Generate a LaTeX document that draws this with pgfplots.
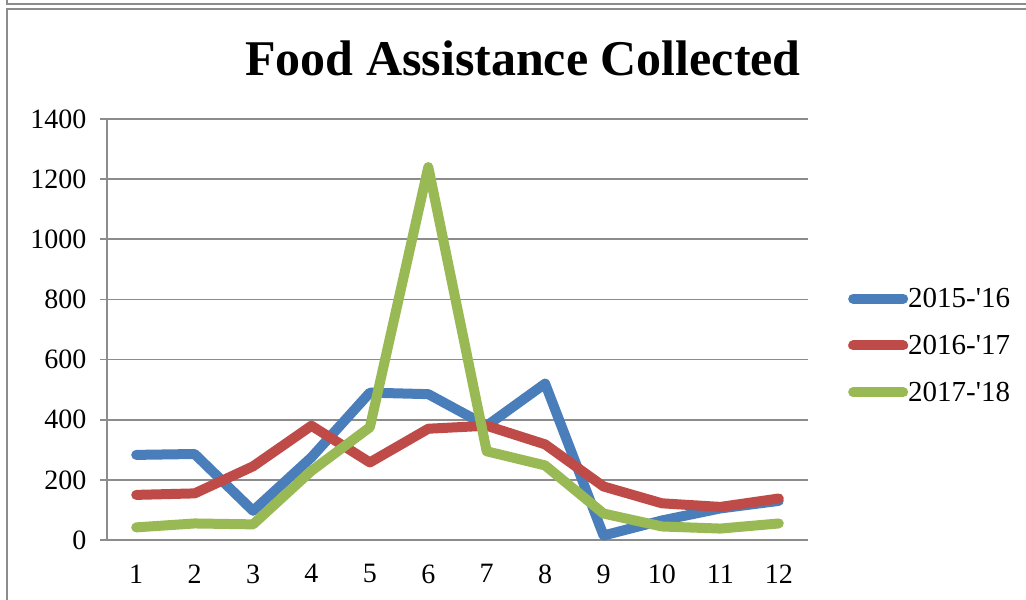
\documentclass[border=0pt]{standalone}
\usepackage{fontspec}
\setmainfont{Liberation Serif}
\usepackage{pgfplots}
\pgfplotsset{compat=1.18}
\definecolor{cblue}{HTML}{4A7EBB}
\definecolor{cred}{HTML}{BE4B48}
\definecolor{cgreen}{HTML}{98B954}
\definecolor{fr}{HTML}{8C8C8C}
\begin{document}
\begin{tikzpicture}[x=1pt,y=1pt]
\useasboundingbox (0,0) rectangle (1026,600);
\begin{axis}[
  at={(107pt,60pt)}, anchor=south west,
  scale only axis, width=701pt, height=421pt,
  xmin=0.5, xmax=12.5, ymin=0, ymax=1400,
  xtick={1,...,12},
  minor xtick={0.5,1.5,...,12.5},
  ytick={0,200,...,1400},
  axis lines*=left,
  axis line style={fr, line width=1.8pt, -},
  ymajorgrids, grid style={fr, line width=1.8pt},
  tick align=outside,
  x tick style={draw=none},
  minor x tick style={fr, line width=1.8pt},
  minor tick length=10pt,
  y tick style={fr, line width=1.8pt},
  major tick length=7pt,
  /pgf/number format/assume math mode=true,
  /pgf/number format/1000 sep={},
  tick label style={font=\fontsize{28}{30}\selectfont, black},
  xticklabel style={yshift=-14pt},
  yticklabel style={xshift=-10pt},
  clip=false,
  legend style={at={(1.057,0.462)}, anchor=west, draw=none, fill=none,
    font=\fontsize{29}{32}\selectfont, /tikz/row sep=26pt, inner sep=0pt,
    nodes={inner sep=0pt}},
  legend cell align=left,
  legend image code/.code={\draw[#1, line cap=round] (0pt,0pt) -- (50pt,0pt);},
  every axis plot/.append style={line width=10pt, line join=round, line cap=round},
]
\addplot[cblue] coordinates {(1,283) (2,286) (3,97) (4,275) (5,490) (6,485) (7,380) (8,520) (9,15) (10,65) (11,105) (12,130)};
\addplot[cred] coordinates {(1,150) (2,155) (3,245) (4,380) (5,258) (6,370) (7,380) (8,318) (9,178) (10,122) (11,110) (12,138)};
\addplot[cgreen] coordinates {(1,42) (2,55) (3,52) (4,230) (5,375) (6,1240) (7,295) (8,248) (9,88) (10,45) (11,38) (12,55)};
\legend{2015-\textquotesingle16,2016-\textquotesingle17,2017-\textquotesingle18}
\end{axis}
\node at (523,542) {\fontsize{50}{56}\selectfont\bfseries Food Assistance Collected};
\draw[fr, line width=2pt] (7,600) -- (7,596) -- (1040,596);
\draw[fr, line width=2pt] (7,-5) -- (7,591) -- (1040,591);
\end{tikzpicture}
\end{document}
